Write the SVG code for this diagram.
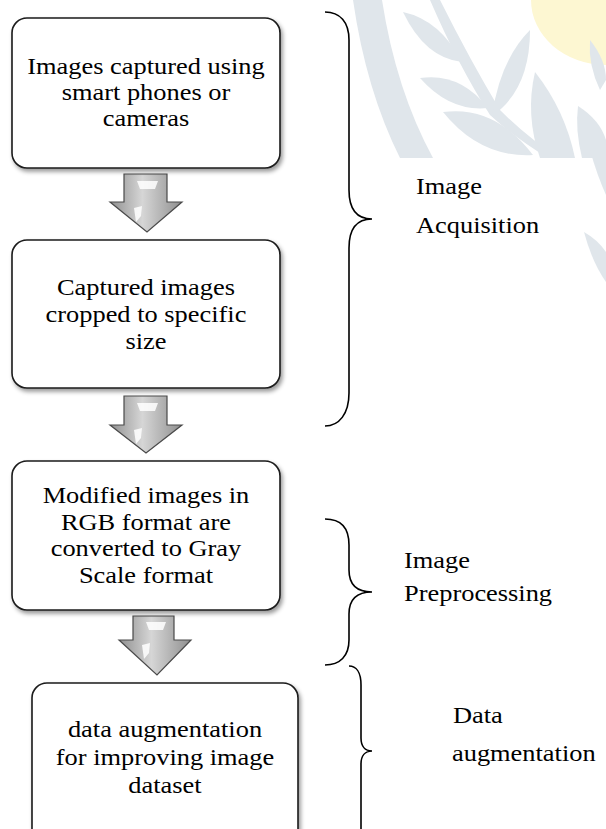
<svg xmlns="http://www.w3.org/2000/svg" width="606" height="829" viewBox="0 0 606 829">
<defs>
<style>
.box{fill:#fff;stroke:#1a1a1a;stroke-width:1.6;filter:url(#sh)}
text{font-family:'Liberation Serif','DejaVu Serif','Times New Roman',serif;font-size:24px;fill:#000}
.c{text-anchor:middle}
.arr{fill:url(#ag);stroke:#4a4a4a;stroke-width:1.2;stroke-linejoin:miter}
.hl{fill:#fff;opacity:0.85}
.br{fill:none;stroke:#000;stroke-width:1.6}
.wm{fill:#e0e6eb}
</style>
<filter id="sh" x="-10%" y="-10%" width="125%" height="125%">
<feDropShadow dx="2" dy="3" stdDeviation="2" flood-color="#000" flood-opacity="0.4"/>
</filter>
<linearGradient id="ag" x1="0" y1="0" x2="1" y2="0">
<stop offset="0" stop-color="#8f8f8f"/>
<stop offset="0.45" stop-color="#d6d6d6"/>
<stop offset="1" stop-color="#8f8f8f"/>
</linearGradient>
</defs>
<rect width="606" height="829" fill="#fff"/>
<g id="watermark">
<ellipse cx="606" cy="0" rx="75" ry="65" fill="#fdf7d2"/>
<path class="wm" d="M353,0 Q366,90 400,158 L433,158 Q396,90 382,0 Z"/>
<path class="wm" d="M440,0 Q470,60 500,110 Q530,140 560,158 L548,158 Q515,138 490,115 Q458,65 430,0 Z"/>
<path class="wm" d="M403,12 Q440,20 462,62 Q425,58 403,12 Z"/>
<path class="wm" d="M420,78 Q460,72 488,108 Q450,112 420,78 Z"/>
<path class="wm" d="M530,30 Q500,60 492,116 Q530,90 530,30 Z"/>
<path class="wm" d="M443,112 Q495,105 533,155 Q480,158 443,112 Z"/>
<path class="wm" d="M535,72 Q565,110 575,158 L540,158 Q525,115 535,72 Z"/>
<path class="wm" d="M578,106 Q600,120 606,140 L606,158 L582,158 Q575,130 578,106 Z"/>
<path class="wm" d="M590,40 Q606,60 606,80 L600,90 Q588,65 590,40 Z"/>
<path class="wm" d="M590,150 L606,150 L606,195 Q597,175 590,150 Z"/>
<path class="wm" d="M584,232 Q598,240 606,252 L606,282 Q592,262 584,232 Z"/>
</g>
<g id="connectors">
<path class="arr" d="M124,174 L167,174 L167,202 L182,202 L147,232 L110,202 L124,202 Z"/>
<path class="hl" d="M137,181 L158,181 L155,189 L140,189 Z"/>
<path class="hl" d="M134,208 L142,206 L141,216 L136,222 Z"/>
<path class="arr" d="M124,396 L167,396 L167,425 L182,425 L146,453 L110,425 L124,425 Z"/>
<path class="hl" d="M137,403 L158,403 L155,411 L140,411 Z"/>
<path class="hl" d="M134,430 L142,428 L141,438 L136,444 Z"/>
<path class="arr" d="M133,616 L174,616 L174,640 L191,640 L157,675 L119,640 L133,640 Z"/>
<path class="hl" d="M146,622 L166,622 L163,630 L149,630 Z"/>
<path class="hl" d="M142,645 L150,643 L149,653 L144,659 Z"/>
<path class="br" d="M325,12 C340,12 349,22 349,40 L349,190 C349,208 356,219 372,219 C356,219 349,230 349,248 L349,393 C349,414 339,426 325,426"/>
<path class="br" d="M325,519 C340,519 349,527 349,545 L349,570 C349,584 356,592 372,592 C356,592 349,600 349,614 L349,640 C349,656 340,665 325,665"/>
<path class="br" d="M349,666 C356,666 361,672 361,685 L361,738 C361,746 365,751 372,751 C365,751 361,756 361,764 L361,840"/>
</g>
<g id="node1">
<rect class="box" x="12" y="18" width="268" height="150" rx="15"/>
<g transform="scale(1.1,1)" font-family="Liberation Serif, serif"><text class="c" x="132.7" y="74">Images captured using</text><text class="c" x="132.7" y="100">smart phones or</text><text class="c" x="132.7" y="126">cameras</text></g>
</g>
<g id="node2">
<rect class="box" x="12" y="240" width="268" height="148" rx="15"/>
<g transform="scale(1.1,1)"><text class="c" x="132.7" y="295">Captured images</text><text class="c" x="132.7" y="322">cropped to specific</text><text class="c" x="132.7" y="349">size</text></g>
</g>
<g id="node3">
<rect class="box" x="12" y="461" width="268" height="149" rx="15"/>
<g transform="scale(1.1,1)"><text class="c" x="132.7" y="503">Modified images in</text><text class="c" x="132.7" y="530">RGB format are</text><text class="c" x="132.7" y="556">converted to Gray</text><text class="c" x="132.7" y="583">Scale format</text></g>
</g>
<g id="node4">
<rect class="box" x="32" y="683" width="266" height="165" rx="15"/>
<g transform="scale(1.1,1)"><text class="c" x="150" y="737">data augmentation</text><text class="c" x="150" y="765">for improving image</text><text class="c" x="150" y="793">dataset</text></g>
</g>
<g id="label1" transform="scale(1.1,1)"><text x="378.2" y="194">Image</text><text x="378.2" y="233">Acquisition</text></g>
<g id="label2" transform="scale(1.1,1)"><text x="367.3" y="568">Image</text><text x="367.3" y="601">Preprocessing</text></g>
<g id="label3" transform="scale(1.1,1)"><text x="411.8" y="723">Data</text><text x="410.9" y="761">augmentation</text></g>
</svg>
